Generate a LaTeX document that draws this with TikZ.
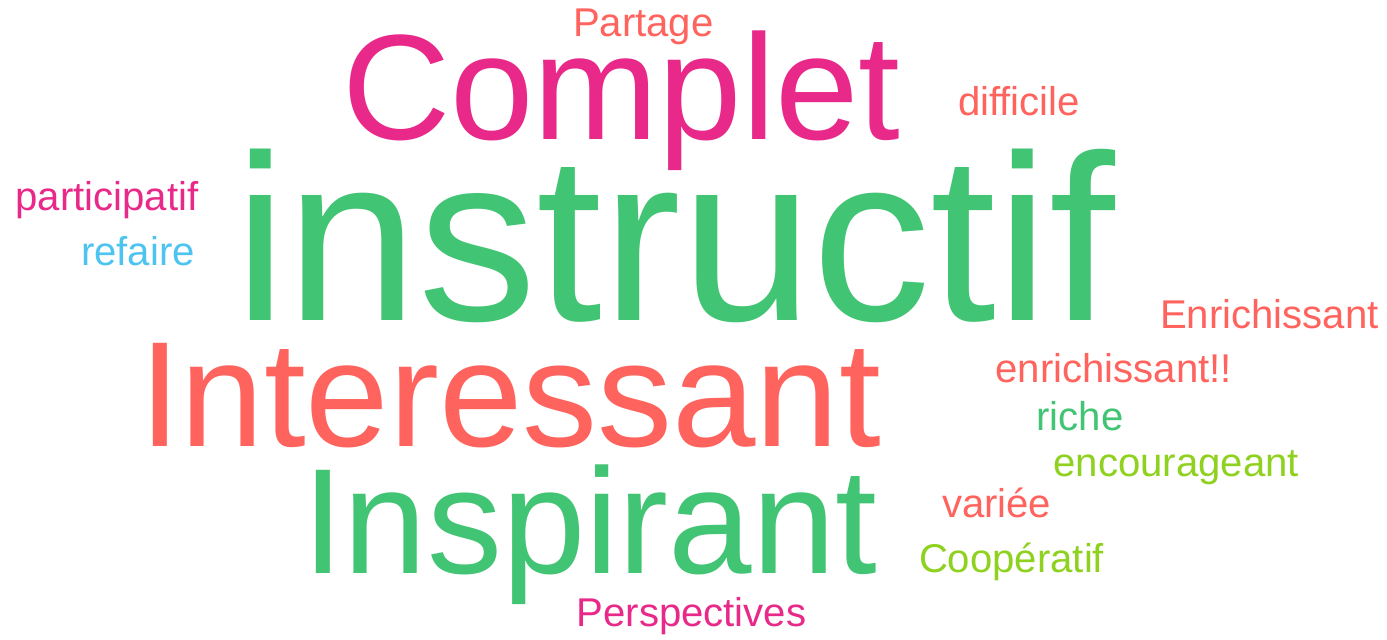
\documentclass[tikz,border=0pt]{standalone}
\usepackage{fontspec}
\setmainfont{Liberation Sans}
\definecolor{wpink}{RGB}{233,41,138}
\definecolor{wgreen}{RGB}{65,196,115}
\definecolor{wcoral}{RGB}{255,99,94}
\definecolor{wblue}{RGB}{77,196,240}
\definecolor{wlime}{RGB}{143,209,31}
\tikzset{
  word/.style={inner sep=0pt, outer sep=0pt, anchor=base west},
  small/.style={word, font=\fontsize{30.1}{32}\selectfont},
  big/.style={word, font=\fontsize{112.5}{120}\selectfont},
  huge/.style={word, font=\fontsize{177.5}{190}\selectfont}
}
\begin{document}
\begin{tikzpicture}[x=0.75pt,y=-0.75pt]
\useasboundingbox[fill=white] (0,0) rectangle (1387,639);
\node[small, text=wcoral] (partage) at (573,36.7) {Partage};
\node[big, text=wpink] (complet) at (342,139.5) {Complet};
\node[small, text=wcoral] (difficile) at (958,115) {difficile};
\node[small, text=wpink] (participatif) at (15.5,210) {participatif};
\node[small, text=wblue] (refaire) at (81,265) {refaire};
\node[huge, text=wgreen] (instructif) at (234,320) {instructif};
\node[small, text=wcoral] (Enrichissant) at (1160,328) {Enrichissant};
\node[big, text=wcoral] (interessant) at (139,446) {Interessant};
\node[small, text=wcoral] (enrichissant) at (995.5,382.7) {enrichissant!!};
\node[small, text=wgreen] (riche) at (1036.6,430) {riche};
\node[small, text=wlime] (encourageant) at (1053.6,476.7) {encourageant};
\node[small, text=wcoral] (variee) at (942,517.3) {variée};
\node[big, text=wgreen] (inspirant) at (302,573.3) {Inspirant};
\node[small, text=wlime] (cooperatif) at (919,572.7) {Coopératif};
\node[small, text=wpink] (perspectives) at (576.6,626.7) {Perspectives};
\end{tikzpicture}
\end{document}
